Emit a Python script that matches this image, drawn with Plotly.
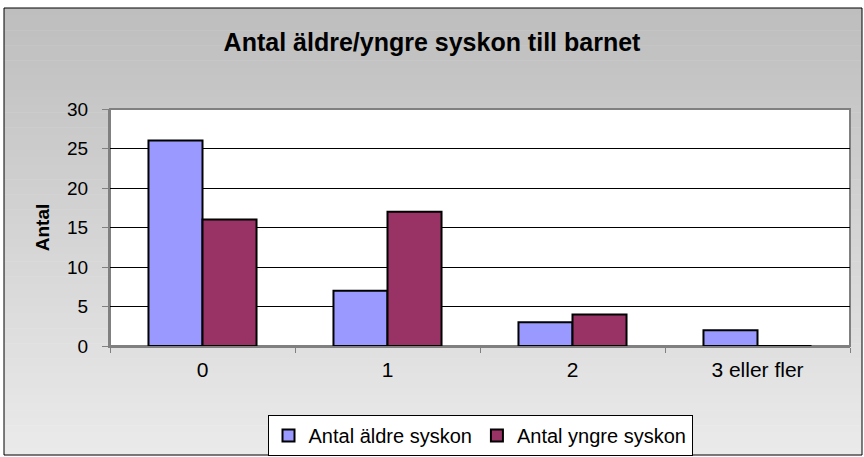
import plotly.graph_objects as go

categories = ["0", "1", "2", "3 eller fler"]
aldre = [26, 7, 3, 2]
yngre = [16, 17, 4, 0]
series_names = ["Antal äldre syskon", "Antal yngre syskon"]
y_ticks = [0, 5, 10, 15, 20, 25, 30]

W, H = 864, 457
L, R, T, B = 110, 14, 109, 111
pw, ph = W - L - R, H - T - B

def px_x(px):
    return (px - L) / pw

def px_y(py):
    return (H - B - py) / ph

fig = go.Figure()
fig.add_trace(go.Bar(x=categories, y=aldre, name=series_names[0],
                     marker=dict(color="#9999ff", line=dict(color="black", width=2))))
fig.add_trace(go.Bar(x=categories, y=yngre, name=series_names[1],
                     marker=dict(color="#993366", line=dict(color="black", width=2))))

shapes = []
# gradient background
n = 60
top_c, bot_c = 190, 234
y0px, y1px = 8, 455
for i in range(n):
    a = y0px + (y1px - y0px) * i / n
    b = y0px + (y1px - y0px) * (i + 1) / n
    c = int(round(top_c + (bot_c - top_c) * i / (n - 1)))
    shapes.append(dict(type="rect", xref="paper", yref="paper",
                       x0=px_x(4), x1=px_x(862), y0=px_y(b + 0.5), y1=px_y(a),
                       fillcolor=f"rgb({c},{c},{c})", line=dict(width=0), layer="below"))
# plot area white
shapes.append(dict(type="rect", xref="paper", yref="paper", x0=0, x1=1, y0=0, y1=1,
                   fillcolor="white", line=dict(color="#808080", width=2), layer="below"))
# outer border
shapes.append(dict(type="rect", xref="paper", yref="paper",
                   x0=px_x(4), x1=px_x(862), y0=px_y(455), y1=px_y(8),
                   fillcolor="rgba(0,0,0,0)", line=dict(color="black", width=1), layer="above"))

fig.update_layout(
    width=W, height=H,
    margin=dict(l=L, r=R, t=T, b=B, pad=0, autoexpand=False),
    paper_bgcolor="white",
    plot_bgcolor="rgba(0,0,0,0)",
    font=dict(family="Arial, Liberation Sans, sans-serif", color="black", size=20),
    title=dict(text="<b>Antal äldre/yngre syskon till barnet</b>", x=0.5, xanchor="center",
               y=1 - 42 / H, yanchor="middle", font=dict(size=25)),
    barmode="group",
    bargap=0.416,
    bargroupgap=0,
    shapes=shapes,
    showlegend=True,
    legend=dict(orientation="h", x=0.5, xanchor="center", yref="container",
                y=1 - 435.5 / H, yanchor="middle",
                bgcolor="white", bordercolor="black", borderwidth=1,
                font=dict(size=20), itemwidth=30, tracegroupgap=0),
    xaxis=dict(type="category", showgrid=False, ticks="outside", tickson="boundaries",
               ticklen=5, tickcolor="#808080", showline=True, linecolor="#808080", linewidth=2,
               tickfont=dict(size=21), ticklabelstandoff=4, automargin=False),
    yaxis=dict(range=[0, 30], tickvals=y_ticks, showgrid=True, gridcolor="black", gridwidth=1,
               ticks="outside", ticklen=6, tickcolor="#808080", showline=True,
               linecolor="#808080", linewidth=2, zeroline=False, ticklabelstandoff=10,
               title=dict(text="<b>Antal</b>", font=dict(size=19), standoff=12),
               tickfont=dict(size=19), automargin=False),
)

fig.write_html("out.html", config={"displayModeBar": False},
               post_script="document.body.style.margin='0';")
